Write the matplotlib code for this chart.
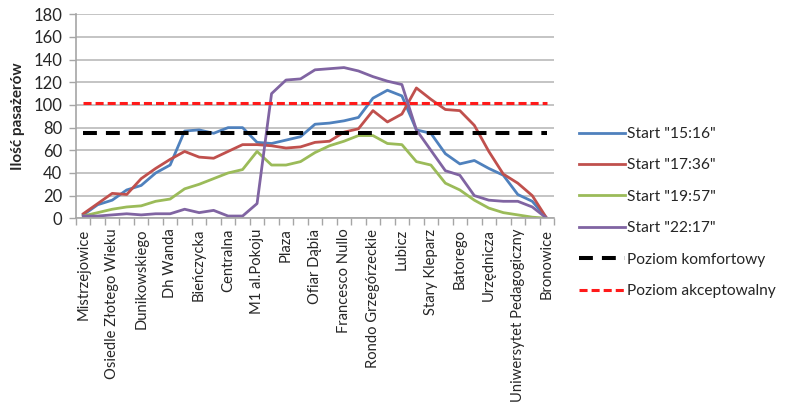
import numpy as np
import matplotlib
matplotlib.use("Agg")
from matplotlib import pyplot as plt

plt.rcParams['font.family'] = ['Lato', 'DejaVu Sans']
plt.rcParams['lines.scale_dashes'] = False

# bus stops along the route (every stop is a point, every second one is labelled)
labels = ['Mistrzejowice', 'Osiedle Złotego Wieku', 'Dunikowskiego', 'Dh Wanda',
          'Bieńczycka', 'Centralna', 'M1 al.Pokoju', 'Plaza', 'Ofiar Dąbia',
          'Francesco Nullo', 'Rondo Grzegórzeckie', 'Lubicz', 'Stary Kleparz',
          'Batorego', 'Urzędnicza', 'Uniwersytet Pedagogiczny', 'Bronowice']

start_1516 = [3, 12, 16, 25, 29, 40, 47, 77, 78, 75, 80, 80, 67, 66, 69, 72, 83,
              84, 86, 89, 106, 113, 108, 78, 75, 57, 48, 51, 44, 38, 21, 15, 0]
start_1736 = [4, 13, 22, 21, 35, 44, 52, 59, 54, 53, 59, 65, 65, 64, 62, 63, 67,
              68, 76, 79, 95, 85, 92, 115, 105, 96, 95, 82, 59, 39, 31, 20, 0]
start_1957 = [2, 5, 8, 10, 11, 15, 17, 26, 30, 35, 40, 43, 59, 47, 47, 50, 58,
              64, 68, 73, 73, 66, 65, 50, 47, 31, 25, 16, 9, 5, 3, 1, 0]
start_2217 = [2, 2, 3, 4, 3, 4, 4, 8, 5, 7, 2, 2, 13, 110, 122, 123, 131,
              132, 133, 130, 125, 121, 118, 78, 60, 42, 38, 20, 16, 15, 15, 10, 0]

comfort_level = 75
accept_level = 102

n = len(start_1516)
x = np.arange(n)

fig = plt.figure(figsize=(7.89, 4.15), dpi=100)
ax = fig.add_axes([76 / 789, 1 - 218.3 / 415, (554 - 76) / 789, (218.3 - 14.3) / 415])

ax.plot(x, start_1516, color='#4F81BD', lw=2.0, label='Start "15:16"')
ax.plot(x, start_1736, color='#C0504D', lw=2.0, label='Start "17:36"')
ax.plot(x, start_1957, color='#9BBB59', lw=2.0, label='Start "19:57"')
ax.plot(x, start_2217, color='#8064A2', lw=2.0, label='Start "22:17"')
ax.plot(x, [comfort_level] * n, color='black', lw=2.9, dashes=(10, 6.5),
        label='Poziom komfortowy')
ax.plot(x, [accept_level] * n, color='#FF1A1A', lw=2.2, dashes=(5.8, 2.9),
        label='Poziom akceptowalny')

ax.set_xlim(-0.5, n - 0.5)
ax.set_ylim(0, 180)
ax.set_yticks(range(0, 181, 20))
ax.yaxis.grid(True, color='#C4C4C4', lw=1.4)
ax.set_axisbelow(True)

ax.set_xticks(x[::2])
ax.set_xticklabels(labels, rotation=90, fontsize=10.6, color='#262626')
ax.set_xticks(np.arange(-0.5, n, 1), minor=True)
ax.tick_params(axis='x', which='major', length=0, pad=7.5)
ax.tick_params(axis='x', which='minor', length=5, color='#A6A6A6', width=1)
ax.tick_params(axis='y', length=5, color='#A6A6A6', width=1, labelsize=12,
               labelcolor='#262626', pad=5)

for side in ['top', 'right']:
    ax.spines[side].set_visible(False)
for side in ['left', 'bottom']:
    ax.spines[side].set_color('#A6A6A6')
    ax.spines[side].set_linewidth(1.2)

ax.set_ylabel('Ilość pasażerów', fontsize=11, fontweight='bold', labelpad=6,
              color='#262626')

fig.legend(loc='upper left', bbox_to_anchor=(565 / 789, 1 - 113 / 415), frameon=False,
           fontsize=11.2, handlelength=2.95, handletextpad=0.12, labelspacing=1.12,
           labelcolor='#262626')

fig.savefig('out.png', dpi=100)
